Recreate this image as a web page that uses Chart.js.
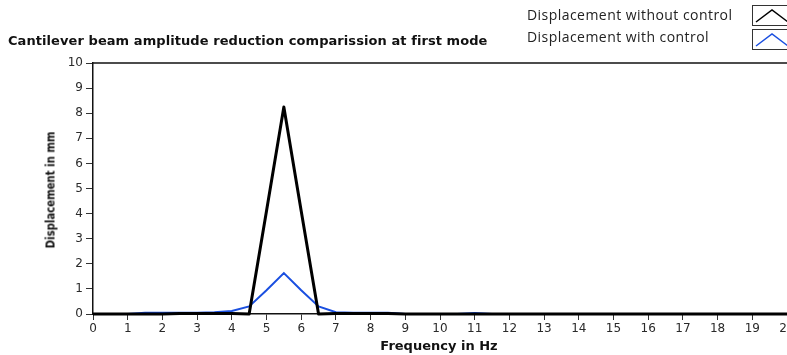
<!DOCTYPE html>
<html>
<head>
<meta charset="utf-8">
<script src="https://cdn.jsdelivr.net/npm/chart.js@4"></script>
<style>
  html, body { margin: 0; padding: 0; background: #fff; overflow: hidden; width: 787px; height: 355px; }
  #wrap { position: relative; width: 800px; height: 355px; }
  #chart-box { position: absolute; left: 0; top: 0; width: 800px; height: 355px; }
  .txt { position: absolute; white-space: nowrap; color: #111; }
  #title { left: 8px; top: 33px; font: bold 13px "DejaVu Sans", sans-serif; letter-spacing: 0.07px; }
  #ylabel { left: 50px; top: 190px; font: bold 13px "DejaVu Sans", sans-serif;
            transform: translate(-50%, -50%) rotate(-90deg) scaleX(0.78); }
  #xlabel { left: 439px; top: 338px; transform: translateX(-50%); font: bold 13px "DejaVu Sans", sans-serif; }
  .leg { position: absolute; left: 527px; font: 14px "Open Sans", sans-serif; color: #222; letter-spacing: 0.45px; }
  .leg-icon { position: absolute; left: 752px; width: 40px; height: 19px; border: 1px solid #333; background: #fff; }
</style>
</head>
<body>
<div id="wrap">
  <div id="chart-box"><canvas id="beam-chart" width="800" height="355"></canvas></div>
  <div class="txt" id="title">Cantilever beam amplitude reduction comparission at first mode</div>
  <div class="txt" id="ylabel">Displacement in mm</div>
  <div class="txt" id="xlabel">Frequency in Hz</div>
  <div class="leg" style="top:5px">Displacement without control</div>
  <div class="leg-icon" style="top:5px">
    <svg width="40" height="19"><polyline points="3,16 19,4 35,16" fill="none" stroke="#000" stroke-width="1.5"/></svg>
  </div>
  <div class="leg" style="top:27px">Displacement with control</div>
  <div class="leg-icon" style="top:29px">
    <svg width="40" height="19"><polyline points="3,16 19,4 35,16" fill="none" stroke="#1a4fe0" stroke-width="1.5"/></svg>
  </div>
</div>
<script>
// Frequency samples (Hz), 0.5 Hz spacing
const frequency = [
  0, 0.5, 1, 1.5, 2, 2.5, 3, 3.5, 4, 4.5,
  5, 5.5, 6, 6.5, 7, 7.5, 8, 8.5, 9, 9.5,
  10, 10.5, 11, 11.5, 12, 12.5, 13, 13.5, 14, 14.5,
  15, 15.5, 16, 16.5, 17, 17.5, 18, 18.5, 19, 19.5, 20
];

// Displacement in mm, without control (black)
const withoutControl = [
  0, 0, 0, 0, 0, 0.02, 0.02, 0.02, 0.02, 0,
  4.1, 8.25, 4.1, 0, 0.02, 0.02, 0.02, 0.02, 0, 0,
  0, 0, 0, 0, 0, 0, 0, 0, 0, 0,
  0, 0, 0, 0, 0, 0, 0, 0, 0, 0, 0
];

// Displacement in mm, with control (blue)
const withControl = [
  0, 0, 0, 0.05, 0.05, 0.05, 0.05, 0.07, 0.12, 0.3,
  0.95, 1.63, 0.95, 0.3, 0.07, 0.05, 0.05, 0.05, 0, 0,
  0, 0, 0.04, 0, 0, 0, 0, 0, 0, 0,
  0, 0, 0, 0, 0, 0, 0, 0, 0, 0, 0
];

const yTicks = [0, 1, 2, 3, 4, 5, 6, 7, 8, 9, 10];
const xTicks = [0, 1, 2, 3, 4, 5, 6, 7, 8, 9, 10, 11, 12, 13, 14, 15, 16, 17, 18, 19, 20];

function toPoints(values) {
  return frequency.map((f, i) => ({ x: f, y: values[i] }));
}

// top edge of the plot frame
const frameTop = {
  id: "frameTop",
  afterDraw(chart) {
    const { ctx, chartArea } = chart;
    ctx.save();
    ctx.strokeStyle = "#111";
    ctx.lineWidth = 1.5;
    ctx.beginPath();
    ctx.moveTo(chartArea.left, chartArea.top);
    ctx.lineTo(chartArea.right, chartArea.top);
    ctx.stroke();
    ctx.restore();
  },
};

const tickFont = { family: "DejaVu Sans", size: 12 };

new Chart(document.getElementById("beam-chart").getContext("2d"), {
  type: "line",
  data: {
    datasets: [
      {
        label: "Displacement without control",
        data: toPoints(withoutControl),
        borderColor: "#000",
        borderWidth: 3,
        borderJoinStyle: "round",
        pointRadius: 0,
        tension: 0,
        clip: false,
      },
      {
        label: "Displacement with control",
        data: toPoints(withControl),
        borderColor: "#1a4fe0",
        borderWidth: 2,
        pointRadius: 0,
        tension: 0,
        clip: false,
      },
    ],
  },
  options: {
    responsive: false,
    animation: false,
    layout: { padding: { top: 63, right: 13, left: 0, bottom: 0 } },
    plugins: { legend: { display: false }, tooltip: { enabled: false } },
    scales: {
      x: {
        type: "linear",
        min: 0,
        max: 20,
        afterBuildTicks: (axis) => { axis.ticks = xTicks.map((v) => ({ value: v })); },
        afterFit: (axis) => { axis.height = 41; },
        grid: { drawOnChartArea: false, tickLength: 6, color: "#333", lineWidth: 1 },
        border: { color: "#111", width: 1.5 },
        ticks: { color: "#2a2a2a", font: tickFont, padding: 2, maxRotation: 0, autoSkip: false },
      },
      y: {
        min: 0,
        max: 10,
        afterBuildTicks: (axis) => { axis.ticks = yTicks.map((v) => ({ value: v })); },
        afterFit: (axis) => { axis.width = 93; },
        grid: { drawOnChartArea: false, tickLength: 7, color: "#333", lineWidth: 1 },
        border: { color: "#111", width: 1.5 },
        ticks: { color: "#2a2a2a", font: tickFont, padding: 3 },
      },
    },
  },
  plugins: [frameTop],
});
</script>
</body>
</html>
